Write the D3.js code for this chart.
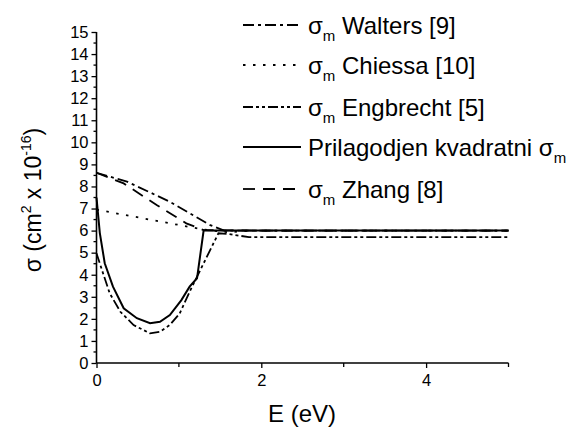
<html>
<head>
<meta charset="UTF-8">
<script src="https://d3js.org/d3.v7.min.js"></script>
<style>
  body { margin: 0; background: #fff; }
  svg { display: block; font-family: Arial, "Liberation Sans", sans-serif; }
</style>
</head>
<body>
<svg id="chart"></svg>
<script>
// energies (eV) and cross sections (1e-16 cm^2)
var waltersE   = [0, 0.37, 0.89, 1.38, 1.55, 2, 5];
var waltersS   = [8.62, 8.22, 7.31, 6.25, 6.0, 6.0, 6.0];
var chiessaE   = [0, 0.89, 1.3, 1.6, 1.85, 5];
var chiessaS   = [6.95, 6.33, 6.05, 5.92, 6.0, 6.0];
var engbrechtE = [0, 0.08, 0.16, 0.29, 0.45, 0.65, 0.77, 0.89, 1.01, 1.13, 1.22, 1.34, 1.48, 1.6, 1.85, 5];
var engbrechtS = [4.97, 4.06, 3.16, 2.32, 1.72, 1.34, 1.42, 1.72, 2.25, 3.23, 3.91, 4.82, 5.88, 5.85, 5.7, 5.7];
var kvadE      = [0, 0.04, 0.1, 0.2, 0.33, 0.49, 0.65, 0.77, 0.89, 1.03, 1.13, 1.22, 1.3, 2, 5];
var kvadS      = [7.5, 5.9, 4.52, 3.46, 2.48, 2.03, 1.8, 1.87, 2.17, 2.85, 3.46, 3.84, 6.0, 6.0, 6.0];
var zhangE     = [0, 0.33, 0.73, 1.09, 1.3, 2, 5];
var zhangS     = [8.62, 8.14, 7.16, 6.33, 6.02, 6.0, 6.0];

var xTicks = [0, 2, 4];
var xMinor = [1, 3, 5];
var yTicks = d3.range(0, 16);
var yMinor = d3.range(0.5, 15, 1);

var series = [
  {name: 'Walters [9]', sigma: true, E: waltersE, S: waltersS, dash: '11,4,3,4'},
  {name: 'Chiessa [10]', sigma: true, E: chiessaE, S: chiessaS, dash: '2.5,7.5'},
  {name: 'Engbrecht [5]', sigma: true, E: engbrechtE, S: engbrechtS, dash: '10,3,3,3,3,3'},
  {name: 'Prilagodjen kvadratni ', sigma: false, E: kvadE, S: kvadS, dash: null},
  {name: 'Zhang [8]', sigma: true, E: zhangE, S: zhangS, dash: '12,8'}
];

var width = 584, height = 429;
var svg = d3.select('#chart').attr('width', width).attr('height', height);

var x = d3.scaleLinear().domain([0, 5]).range([96.5, 508.5]);
var y = d3.scaleLinear().domain([0, 15]).range([363, 32]);

var line = d3.line()
  .x(d => x(d[0]))
  .y(d => y(d[1]));

// curves
series.forEach(function (s) {
  svg.append('path')
    .datum(s.E.map((e, i) => [e, s.S[i]]))
    .attr('d', line)
    .attr('fill', 'none')
    .attr('stroke', '#000')
    .attr('stroke-width', s.dash ? 1.8 : 2)
    .attr('stroke-dasharray', s.dash);
});

// axes
var xAxis = svg.append('g').attr('transform', 'translate(0,' + y(0) + ')');
xAxis.call(d3.axisBottom(x).tickValues(xTicks).tickFormat(d3.format('d')).tickSize(5).tickPadding(6));
xAxis.append('g').selectAll('line').data(xMinor).enter().append('line')
  .attr('x1', d => x(d)).attr('x2', d => x(d)).attr('y1', 0).attr('y2', 4)
  .attr('stroke', '#000').attr('stroke-width', 1.3);

var yAxis = svg.append('g').attr('transform', 'translate(' + x(0) + ',0)');
yAxis.call(d3.axisLeft(y).tickValues(yTicks).tickFormat(d3.format('d')).tickSize(5).tickPadding(3));
yAxis.append('g').selectAll('line').data(yMinor).enter().append('line')
  .attr('y1', d => y(d)).attr('y2', d => y(d)).attr('x1', 0).attr('x2', -3)
  .attr('stroke', '#000').attr('stroke-width', 1.3);

svg.selectAll('.domain').attr('stroke-width', 1.6);
xAxis.select('.domain').attr('d', 'M' + x(0) + ',0H' + x(5));
yAxis.select('.domain').attr('d', 'M0,' + y(0) + 'V' + y(15));
svg.selectAll('.tick line').attr('stroke-width', 1.3);
svg.selectAll('.tick text').attr('font-size', 16.5).attr('font-family', 'Arial, "Liberation Sans", sans-serif').attr('fill', '#000');

// axis titles
svg.append('text')
  .attr('x', 302).attr('y', 422)
  .attr('text-anchor', 'middle')
  .attr('font-size', 24)
  .text('E (eV)');

var yt = svg.append('text')
  .attr('transform', 'translate(41,200) rotate(-90)')
  .attr('text-anchor', 'middle')
  .attr('font-size', 23);
yt.append('tspan').text('σ (cm');
yt.append('tspan').attr('font-size', 14).attr('dy', -10).text('2');
yt.append('tspan').attr('dy', 10).text(' x 10');
yt.append('tspan').attr('font-size', 14).attr('dy', -10).text('-16');
yt.append('tspan').attr('dy', 10).text(')');

// legend
var legY = [25, 65, 107, 147, 189];
var leg = svg.append('g').selectAll('g').data(series).enter().append('g')
  .attr('transform', (d, i) => 'translate(243,' + legY[i] + ')');
leg.append('line')
  .attr('x1', 0).attr('x2', 58)
  .attr('stroke', '#000')
  .attr('stroke-width', d => d.dash ? 1.8 : 2)
  .attr('stroke-dasharray', d => d.dash);
var lt = leg.append('text')
  .attr('x', 65).attr('y', 9)
  .attr('font-size', 24);
lt.each(function (d) {
  var t = d3.select(this);
  if (d.sigma) {
    t.append('tspan').text('σ');
    t.append('tspan').attr('font-size', 15).attr('dy', 7).text('m');
    t.append('tspan').attr('dy', -7).text(' ' + d.name);
  } else {
    t.append('tspan').text(d.name + 'σ');
    t.append('tspan').attr('font-size', 15).attr('dy', 7).text('m');
  }
});
</script>
</body>
</html>
